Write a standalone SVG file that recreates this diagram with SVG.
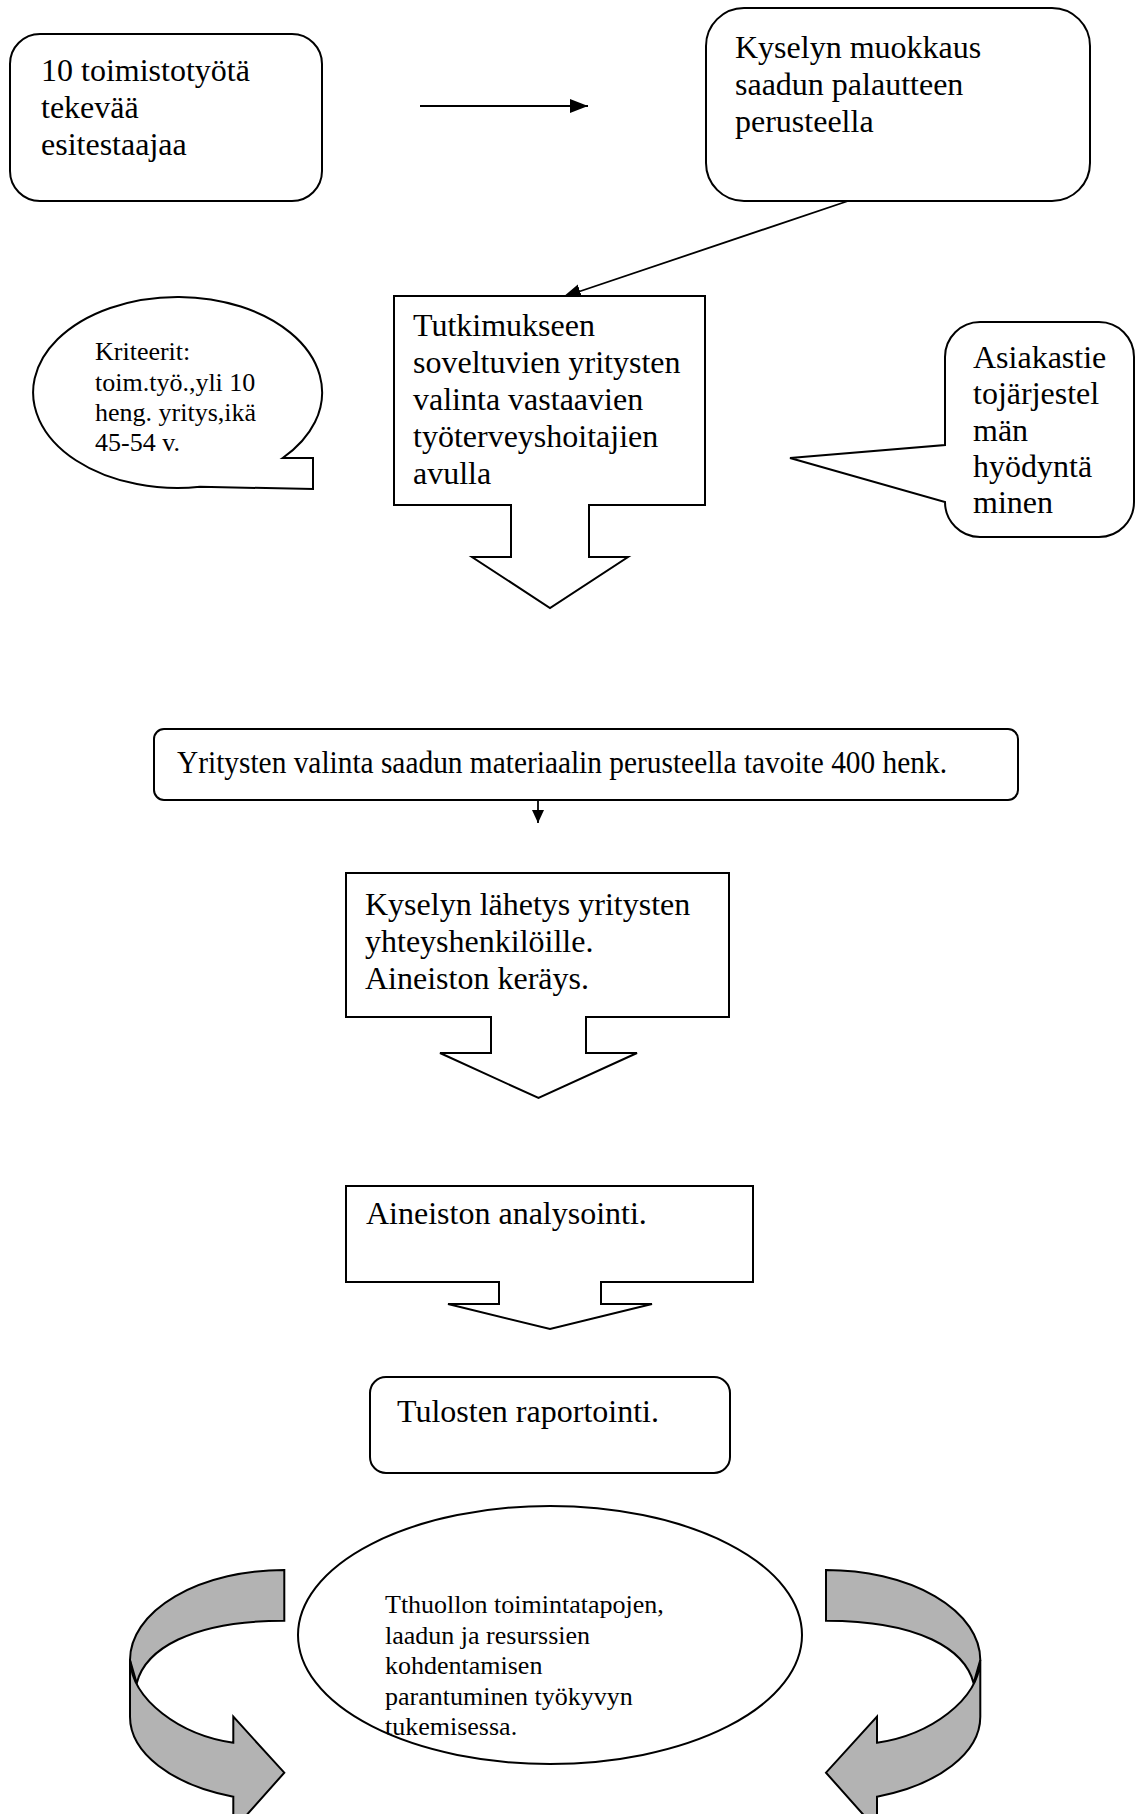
<svg xmlns="http://www.w3.org/2000/svg" width="1136" height="1814" viewBox="0 0 1136 1814">
<style>
.shape{fill:#fff;stroke:#000;stroke-width:2;stroke-linejoin:miter}
.t32{font-family:"Liberation Serif","Times New Roman",serif;font-size:32px;fill:#000}
.t26{font-family:"Liberation Serif","Times New Roman",serif;font-size:26px;fill:#000}
.band{fill:#b3b3b3;stroke:#000;stroke-width:2;stroke-linejoin:miter}
.conn{fill:none;stroke:#000;stroke-width:1.8}
</style>
<defs>
<marker id="ah" markerUnits="userSpaceOnUse" markerWidth="20" markerHeight="16" refX="18" refY="7" orient="auto"><path d="M0,0 L18,7 L0,14 Z" fill="#000"/></marker>
<marker id="ahs" markerUnits="userSpaceOnUse" markerWidth="16" markerHeight="14" refX="13" refY="6" orient="auto"><path d="M0,0 L13,6 L0,12 Z" fill="#000"/></marker>
<g id="curvedArrow">
<path class="band" d="M284.3,1570 A154.3,90 0 0 0 130,1660 L136.7,1683.3 C145,1650 190,1620.7 284.3,1620.7 Z"/>
<path class="band" d="M130,1660 L130,1716.7 A154.3,84.7 0 0 0 233.3,1796.7 L233.3,1830 L284.3,1772.7 L233.3,1716.7 L233.3,1742.7 C180,1735 132,1700 130,1660 Z"/>
</g>
</defs>

<g id="connectors">
<line class="conn" x1="420" y1="106" x2="588" y2="106" marker-end="url(#ah)"/>
<line class="conn" x1="848" y1="201" x2="563" y2="297" marker-end="url(#ah)"/>
<line class="conn" x1="538" y1="800" x2="538" y2="823" marker-end="url(#ahs)"/>
</g>

<g id="node-esitestaajat">
<rect class="shape" x="10" y="34" width="312" height="167" rx="30" ry="30"/>
<text class="t32" x="41"><tspan x="41" y="81">10 toimistotyötä</tspan><tspan x="41" y="118">tekevää</tspan><tspan x="41" y="155">esitestaajaa</tspan></text>
</g>

<g id="node-muokkaus">
<rect class="shape" x="706" y="8" width="384" height="193" rx="38" ry="38"/>
<text class="t32"><tspan x="735" y="58">Kyselyn muokkaus</tspan><tspan x="735" y="95">saadun palautteen</tspan><tspan x="735" y="132">perusteella</tspan></text>
</g>

<g id="node-kriteerit">
<path class="shape" d="M282.7,458 L313,458 L313,489 L200,486.8 A144.5,95.5 0 1 1 282.7,458 Z"/>
<text class="t26"><tspan x="95" y="360">Kriteerit:</tspan><tspan x="95" y="391">toim.työ.,yli 10</tspan><tspan x="95" y="421">heng. yritys,ikä</tspan><tspan x="95" y="451">45-54 v.</tspan></text>
</g>

<g id="node-tutkimukseen">
<path class="shape" d="M394,296 L705,296 L705,505 L589,505 L589,557 L628,557 L550,608 L472,557 L511,557 L511,505 L394,505 Z"/>
<text class="t32"><tspan x="413" y="336">Tutkimukseen</tspan><tspan x="413" y="373">soveltuvien yritysten</tspan><tspan x="413" y="410">valinta vastaavien</tspan><tspan x="413" y="447">työterveyshoitajien</tspan><tspan x="413" y="484">avulla</tspan></text>
</g>

<g id="node-asiakastieto">
<path class="shape" d="M980,322 L1099,322 A35,35 0 0 1 1134,357 L1134,502 A35,35 0 0 1 1099,537 L980,537 A35,35 0 0 1 945,502 L945,502 L790,458 L945,445 L945,357 A35,35 0 0 1 980,322 Z"/>
<text class="t32"><tspan x="973" y="368">Asiakastie</tspan><tspan x="973" y="404">tojärjestel</tspan><tspan x="973" y="441">män</tspan><tspan x="973" y="477">hyödyntä</tspan><tspan x="973" y="513">minen</tspan></text>
</g>

<g id="node-yritysten-valinta">
<rect class="shape" x="154" y="729" width="864" height="71" rx="10" ry="10"/>
<text class="t32" x="177" y="773" textLength="770" lengthAdjust="spacingAndGlyphs">Yritysten valinta saadun materiaalin perusteella tavoite 400 henk.</text>
</g>

<g id="node-lahetys">
<path class="shape" d="M346,873 L729,873 L729,1017 L586,1017 L586,1053 L637,1053 L538.5,1098 L440,1053 L491,1053 L491,1017 L346,1017 Z"/>
<text class="t32"><tspan x="365" y="915">Kyselyn lähetys yritysten</tspan><tspan x="365" y="952">yhteyshenkilöille.</tspan><tspan x="365" y="989">Aineiston keräys.</tspan></text>
</g>

<g id="node-analysointi">
<path class="shape" d="M346,1186 L753,1186 L753,1282 L601,1282 L601,1304 L652,1304 L550,1329 L448,1304 L499,1304 L499,1282 L346,1282 Z"/>
<text class="t32" x="366" y="1224">Aineiston analysointi.</text>
</g>

<g id="node-raportointi">
<rect class="shape" x="370" y="1377" width="360" height="96" rx="16" ry="16"/>
<text class="t32" x="397" y="1422">Tulosten raportointi.</text>
</g>

<g id="node-arrow-left">
<use href="#curvedArrow"/>
</g>
<g id="node-arrow-right">
<use href="#curvedArrow" transform="translate(1110.3,0) scale(-1,1)"/>
</g>

<g id="node-tthuolto">
<ellipse class="shape" cx="550" cy="1635" rx="252" ry="129"/>
<text class="t26"><tspan x="385" y="1613">Tthuollon toimintatapojen,</tspan><tspan x="385" y="1644">laadun ja resurssien</tspan><tspan x="385" y="1674">kohdentamisen</tspan><tspan x="385" y="1705">parantuminen työkyvyn</tspan><tspan x="385" y="1735">tukemisessa.</tspan></text>
</g>
</svg>
